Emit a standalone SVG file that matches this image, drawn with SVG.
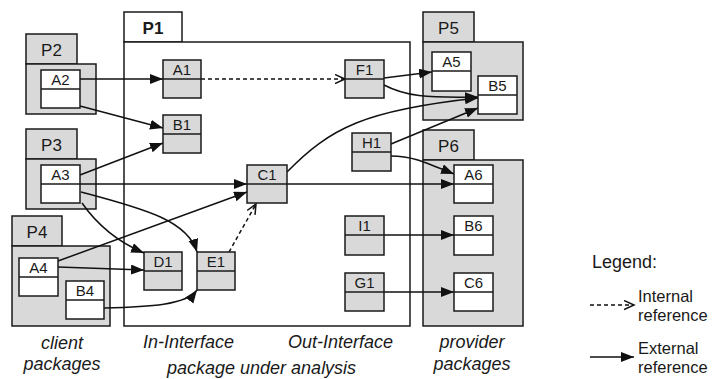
<svg xmlns="http://www.w3.org/2000/svg" width="715" height="379" viewBox="0 0 715 379">
<defs>
<style>
.pkg{fill:#d9d9d9;stroke:#1a1a1a;stroke-width:1.5}
.pkw{fill:#ffffff;stroke:#1a1a1a;stroke-width:1.5}
.ng{fill:#d9d9d9;stroke:#1a1a1a;stroke-width:1.5}
.nw{fill:#ffffff;stroke:#1a1a1a;stroke-width:1.5}
.dv{stroke:#1a1a1a;stroke-width:1.5}
.pl{font-family:"Liberation Sans",Arial,sans-serif;font-size:17px;fill:#1a1a1a;text-anchor:middle}
.pb{font-weight:bold}
.nl{font-family:"Liberation Sans",Arial,sans-serif;font-size:15px;fill:#1a1a1a;text-anchor:middle}
.cap{font-family:"Liberation Sans",Arial,sans-serif;font-size:18px;font-style:italic;fill:#1a1a1a}
.lg{font-family:"Liberation Sans",Arial,sans-serif;font-size:16.5px;fill:#1a1a1a}
.ext{fill:none;stroke:#111;stroke-width:1.5;marker-end:url(#fa)}
.int{fill:none;stroke:#111;stroke-width:1.5;stroke-dasharray:4 3;marker-end:url(#oa)}
</style>
<marker id="fa" markerUnits="userSpaceOnUse" markerWidth="14" markerHeight="12" refX="13" refY="5" orient="auto">
<path d="M0,0 L13,5 L0,10 z" fill="#111"/>
</marker>
<marker id="oa" markerUnits="userSpaceOnUse" markerWidth="12" markerHeight="12" refX="10" refY="5" orient="auto">
<path d="M0,0.5 L10,5 L0,9.5" fill="none" stroke="#111" stroke-width="1.5"/>
</marker>
</defs>
<rect width="715" height="379" fill="#ffffff"/>

<g id="P1">
<rect class="pkw" x="124" y="12" width="58" height="30"/>
<rect class="pkw" x="124" y="42" width="286" height="284"/>
<text class="pl pb" x="153" y="34">P1</text>
</g>
<g id="P2">
<rect class="pkg" x="26" y="34" width="51" height="30"/>
<rect class="pkg" x="26" y="64" width="70" height="50"/>
<text class="pl" x="51.5" y="56">P2</text>
</g>
<g id="P3">
<rect class="pkg" x="26" y="129" width="51" height="30"/>
<rect class="pkg" x="26" y="159" width="70" height="50"/>
<text class="pl" x="51.5" y="151">P3</text>
</g>
<g id="P4">
<rect class="pkg" x="12" y="216" width="50" height="30"/>
<rect class="pkg" x="12" y="246" width="98" height="80"/>
<text class="pl" x="37" y="238">P4</text>
</g>
<g id="P5">
<rect class="pkg" x="423" y="12" width="51" height="30"/>
<rect class="pkg" x="423" y="42" width="100" height="78"/>
<text class="pl" x="448.5" y="34">P5</text>
</g>
<g id="P6">
<rect class="pkg" x="423" y="130" width="51" height="30"/>
<rect class="pkg" x="423" y="160" width="100" height="166"/>
<text class="pl" x="448.5" y="152">P6</text>
</g>

<g id="connectors">
<path class="ext" d="M80,79 L163,79"/>
<path class="ext" d="M80,106 L163,128"/>
<path class="ext" d="M80,175 L163,143"/>
<path class="ext" d="M80,184 L247,184"/>
<path class="ext" d="M81,192 C150,210 188,222 197,252"/>
<path class="ext" d="M82,203 C98,226 118,242 144,253"/>
<path class="ext" d="M58,261 L247,192"/>
<path class="ext" d="M58,267 L144,270"/>
<path class="ext" d="M104,308 C150,307 186,305 197,290"/>
<path class="int" d="M229,252 L256,204"/>
<path class="int" d="M201,79 L345,79"/>
<path class="ext" d="M384,78 L432,72"/>
<path class="ext" d="M384,85 C405,96 425,98 478,97"/>
<path class="ext" d="M287,172 C330,128 365,110 478,98"/>
<path class="ext" d="M391,144 L478,108"/>
<path class="ext" d="M391,156 C410,156 420,160 454,174"/>
<path class="ext" d="M287,184 L454,184"/>
<path class="ext" d="M384,235 L454,235"/>
<path class="ext" d="M384,292 L454,292"/>
</g>

<g id="A1"><rect class="ng" x="163" y="60" width="38" height="38"/><line class="dv" x1="163" y1="79" x2="201" y2="79"/><text class="nl" x="182" y="75">A1</text></g>
<g id="B1"><rect class="ng" x="163" y="115" width="38" height="38"/><line class="dv" x1="163" y1="134" x2="201" y2="134"/><text class="nl" x="182" y="130">B1</text></g>
<g id="C1"><rect class="ng" x="247" y="165" width="40" height="38"/><line class="dv" x1="247" y1="184" x2="287" y2="184"/><text class="nl" x="267" y="180">C1</text></g>
<g id="D1"><rect class="ng" x="144" y="252" width="38" height="38"/><line class="dv" x1="144" y1="271" x2="182" y2="271"/><text class="nl" x="163" y="267">D1</text></g>
<g id="E1"><rect class="ng" x="197" y="252" width="38" height="38"/><line class="dv" x1="197" y1="271" x2="235" y2="271"/><text class="nl" x="216" y="267">E1</text></g>
<g id="F1"><rect class="ng" x="345" y="60" width="39" height="38"/><line class="dv" x1="345" y1="79" x2="384" y2="79"/><text class="nl" x="364.5" y="75">F1</text></g>
<g id="H1"><rect class="ng" x="352" y="133" width="39" height="38"/><line class="dv" x1="352" y1="152" x2="391" y2="152"/><text class="nl" x="371.5" y="148">H1</text></g>
<g id="I1"><rect class="ng" x="345" y="216" width="39" height="39"/><line class="dv" x1="345" y1="235" x2="384" y2="235"/><text class="nl" x="364.5" y="231">I1</text></g>
<g id="G1"><rect class="ng" x="345" y="273" width="39" height="38"/><line class="dv" x1="345" y1="292" x2="384" y2="292"/><text class="nl" x="364.5" y="288">G1</text></g>

<g id="A2"><rect class="nw" x="41" y="70" width="39" height="38"/><line class="dv" x1="41" y1="89" x2="80" y2="89"/><text class="nl" x="60.5" y="85">A2</text></g>
<g id="A3"><rect class="nw" x="41" y="165" width="39" height="38"/><line class="dv" x1="41" y1="184" x2="80" y2="184"/><text class="nl" x="60.5" y="180">A3</text></g>
<g id="A4"><rect class="nw" x="19" y="258" width="39" height="38"/><line class="dv" x1="19" y1="277" x2="58" y2="277"/><text class="nl" x="38.5" y="273">A4</text></g>
<g id="B4"><rect class="nw" x="66" y="281" width="38" height="38"/><line class="dv" x1="66" y1="300" x2="104" y2="300"/><text class="nl" x="85" y="296">B4</text></g>
<g id="A5"><rect class="nw" x="432" y="52" width="39" height="39"/><line class="dv" x1="432" y1="71" x2="471" y2="71"/><text class="nl" x="451.5" y="67">A5</text></g>
<g id="B5"><rect class="nw" x="478" y="76" width="39" height="38"/><line class="dv" x1="478" y1="95" x2="517" y2="95"/><text class="nl" x="497.5" y="91">B5</text></g>
<g id="A6"><rect class="nw" x="454" y="165" width="39" height="38"/><line class="dv" x1="454" y1="184" x2="493" y2="184"/><text class="nl" x="473.5" y="180">A6</text></g>
<g id="B6"><rect class="nw" x="454" y="216" width="39" height="39"/><line class="dv" x1="454" y1="235" x2="493" y2="235"/><text class="nl" x="473.5" y="231">B6</text></g>
<g id="C6"><rect class="nw" x="454" y="273" width="39" height="38"/><line class="dv" x1="454" y1="292" x2="493" y2="292"/><text class="nl" x="473.5" y="288">C6</text></g>

<g id="captions">
<text class="cap" x="62" y="349" text-anchor="middle">client</text>
<text class="cap" x="62" y="370" text-anchor="middle">packages</text>
<text class="cap" x="143" y="348">In-Interface</text>
<text class="cap" x="288" y="348">Out-Interface</text>
<text class="cap" x="167" y="374">package under analysis</text>
<text class="cap" x="472" y="348" text-anchor="middle">provider</text>
<text class="cap" x="472" y="370" text-anchor="middle">packages</text>
</g>

<g id="legend">
<text class="lg" x="592" y="268" style="font-size:18px">Legend:</text>
<path class="int" d="M590,305 L634,305"/>
<text class="lg" x="638" y="302">Internal</text>
<text class="lg" x="638" y="321">reference</text>
<path class="ext" d="M590,357 L634,357"/>
<text class="lg" x="638" y="354">External</text>
<text class="lg" x="638" y="373">reference</text>
</g>
</svg>
